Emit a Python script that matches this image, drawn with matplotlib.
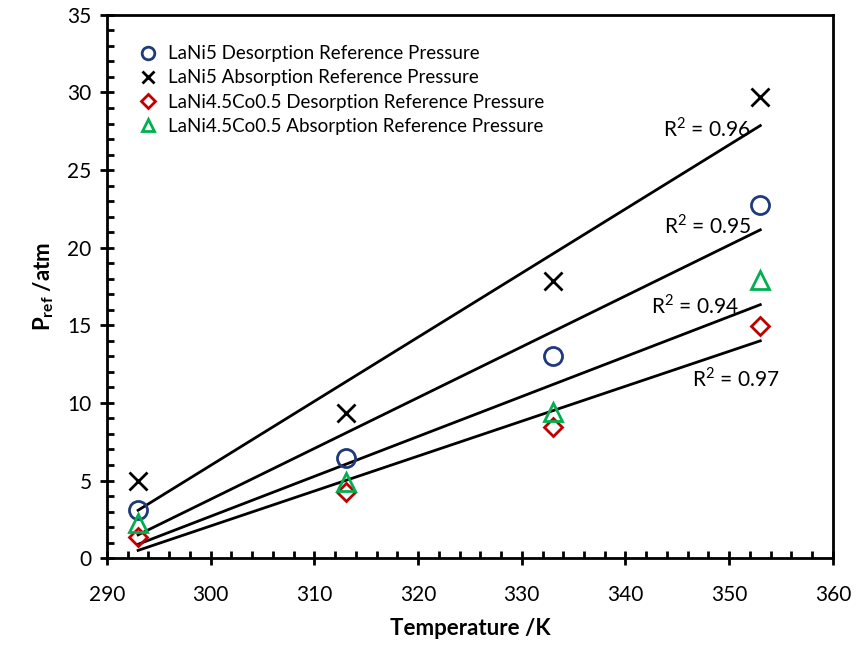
import numpy as np
import matplotlib
matplotlib.use('Agg')
import matplotlib.pyplot as plt
from matplotlib.ticker import MultipleLocator

plt.rcParams['font.family'] = ['Lato', 'DejaVu Sans']
plt.rcParams['mathtext.fontset'] = 'custom'
plt.rcParams['mathtext.rm'] = 'Lato'
plt.rcParams['mathtext.bf'] = 'Lato:bold'

# temperatures (K) and reference pressures (atm)
temps = np.array([293, 313, 333, 353])
lani5_des = np.array([3.1, 6.45, 13.0, 22.75])
lani5_abs = np.array([5.0, 9.35, 17.85, 29.7])
laco_des = np.array([1.35, 4.25, 8.45, 14.95])
laco_abs = np.array([2.25, 4.9, 9.4, 17.9])

labels = ['LaNi5 Desorption Reference Pressure',
          'LaNi5 Absorption Reference Pressure',
          'LaNi4.5Co0.5 Desorption Reference Pressure',
          'LaNi4.5Co0.5 Absorption Reference Pressure']

# R^2 text for each trend line, with anchor position
r2_vals = ['0.96', '0.95', '0.94', '0.97']
r2_x = [343.6, 343.7, 342.5, 346.4]
r2_y = [27.7, 21.4, 16.25, 11.55]

fig = plt.figure(figsize=(8.56, 6.46), dpi=100)
ax = fig.add_axes([0.125, 0.136, 0.848, 0.841])

series = [
    (lani5_des, dict(marker='o', mfc='none', mec='#1f3a7a', ms=13, mew=2)),
    (lani5_abs, dict(marker='x', color='black', ms=13, mew=2)),
    (laco_des, dict(marker='D', mfc='none', mec='#c00000', ms=9.5, mew=2)),
    (laco_abs, dict(marker='^', mfc='none', mec='#00b050', ms=13, mew=2)),
]

for (yvals, style), lab in zip(series, labels):
    ax.plot(temps, yvals, ls='none', label=lab, zorder=3, **style)

# linear trend lines
for yvals in [lani5_abs, lani5_des, laco_abs, laco_des]:
    m, b = np.polyfit(temps, yvals, 1)
    ax.plot(temps[[0, -1]], m * temps[[0, -1]] + b, c='black', lw=2, zorder=2)

for v, x, y in zip(r2_vals, r2_x, r2_y):
    ax.text(x, y, r'R$^\mathregular{2}$ = ' + v, fontsize=15, ha='left', va='center', zorder=4)

ax.set_xlim(290, 360)
ax.set_ylim(0, 35)
ax.xaxis.set_major_locator(MultipleLocator(10))
ax.xaxis.set_minor_locator(MultipleLocator(2))
ax.yaxis.set_major_locator(MultipleLocator(5))
ax.yaxis.set_minor_locator(MultipleLocator(1))
ax.tick_params(which='major', direction='inout', length=10, width=2, labelsize=15, pad=6)
ax.tick_params(which='minor', direction='in', length=5, width=2)
ax.tick_params(axis='x', pad=14)
for sp in ax.spines.values():
    sp.set_linewidth(2)

ax.set_xlabel('Temperature /K', fontsize=16, fontweight='bold', labelpad=10)
ax.set_ylabel(r'$\mathbf{P_{ref}}$ /atm', fontsize=16, fontweight='bold', labelpad=8)

ax.legend(loc='upper left', bbox_to_anchor=(0.02, 0.975), frameon=False, fontsize=13.5,
          markerscale=0.7, handlelength=1.0, handletextpad=0.6, labelspacing=0.38)

fig.savefig('out.png', dpi=100)
